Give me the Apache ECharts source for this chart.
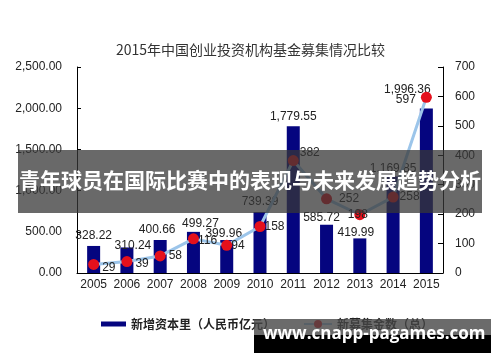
<!DOCTYPE html>
<html>
<head>
<meta charset="utf-8">
<script src="https://cdn.jsdelivr.net/npm/echarts@6/dist/echarts.min.js"></script>
<style>html,body{margin:0;padding:0;background:#fff;}#c{width:500px;height:362px;}</style>
</head>
<body>
<div id="c"></div>
<script>
var years = ['2005','2006','2007','2008','2009','2010','2011','2012','2013','2014','2015'];
var capital = [328.22, 310.24, 400.66, 499.27, 399.96, 739.39, 1779.55, 585.72, 419.99, 1169.85, 1996.36];
var funds = [29, 39, 58, 116, 94, 158, 382, 252, 198, 258, 597];
var titleText = '2015年中国创业投资机构基金募集情况比较';
var barName = '新增资本里（人民币亿元）';
var lineName = '新募集金数（总）';
var bannerText = '青年球员在国际比赛中的表现与未来发展趋势分析';
var siteText = 'www.cnapp-pagames.com';

function fmt2(v) {
  var s = v.toFixed(2);
  var p = s.split('.');
  p[0] = p[0].replace(/\B(?=(\d{3})+(?!\d))/g, ',');
  return p.join('.');
}

var barOffsets = [[0,0],[6,8],[-3,0],[7,2],[-3,4],[0,0],[0,0],[-5,3],[-4,4],[0,2],[-19,-9]];
var lineLabelCfg = [
  {position:'right', offset:[-2,3]},
  {position:'right', offset:[-2,2]},
  {position:'right', offset:[-2,0]},
  {position:'right', offset:[-6,2]},
  {position:'right', offset:[-6,0]},
  {position:'right', offset:[-6,0]},
  {position:'right', offset:[-4,-8]},
  {position:'right', offset:[2,0]},
  {position:'inside', offset:[-2,0]},
  {position:'right', offset:[-4,0]},
  {position:'left', offset:[0,2]}
];

var barData = capital.map(function (v, i) {
  return {value: v, label: {offset: barOffsets[i]}};
});
var lineData = funds.map(function (v, i) {
  return {value: v, label: lineLabelCfg[i]};
});

var txt = '#222';
var chart = echarts.init(document.getElementById('c'), null, {renderer: 'canvas'});
chart.setOption({
  animation: false,
  backgroundColor: '#fff',
  title: {
    text: titleText,
    left: 111, top: 38,
    textStyle: {fontFamily: 'Noto Sans CJK SC', fontSize: 14, fontWeight: 'normal', color: '#333'}
  },
  grid: {left: 77, right: 57, top: 67, bottom: 89},
  legend: [{
    data: [{name: barName, icon: 'rect'}],
    left: 96, top: 313,
    itemWidth: 25, itemHeight: 5, itemGap: 20,
    textStyle: {fontFamily: 'Noto Sans CJK SC', fontSize: 12, fontWeight: 'bold', color: txt}
  }, {
    data: [{name: lineName}],
    left: 298, top: 313,
    itemWidth: 28, itemHeight: 10,
    textStyle: {fontFamily: 'Noto Sans CJK SC', fontSize: 12, fontWeight: 'bold', color: txt}
  }],
  xAxis: {
    type: 'category', data: years, boundaryGap: true,
    axisLine: {lineStyle: {color: '#000', width: 1}},
    axisTick: {inside: true, length: 4, lineStyle: {color: '#000'}},
    axisLabel: {interval: 0, color: txt, fontFamily: 'Liberation Sans', fontSize: 12, margin: 6}
  },
  yAxis: [{
    type: 'value', min: 0, max: 2500, interval: 500,
    axisLine: {show: true, lineStyle: {color: '#000'}},
    axisTick: {show: true, inside: true, length: 4, lineStyle: {color: '#000'}},
    splitLine: {show: false},
    axisLabel: {color: txt, fontFamily: 'Liberation Sans', fontSize: 12, margin: 15, formatter: function (v) { return fmt2(v); }}
  }, {
    type: 'value', min: 0, max: 700, interval: 100, position: 'right',
    axisLine: {show: true, lineStyle: {color: '#000'}},
    axisTick: {show: true, inside: true, length: 5, lineStyle: {color: '#000'}},
    splitLine: {show: false},
    axisLabel: {color: txt, fontFamily: 'Liberation Sans', fontSize: 12, margin: 12}
  }],
  series: [{
    name: barName, type: 'bar', yAxisIndex: 0, data: barData,
    barWidth: 13,
    itemStyle: {color: '#05057f'},
    label: {show: true, position: 'top', distance: 4, color: txt, fontFamily: 'Liberation Sans', fontSize: 12,
      formatter: function (p) { return fmt2(p.value); }}
  }, {
    name: lineName, type: 'line', yAxisIndex: 1, data: lineData,
    symbol: 'circle', symbolSize: 11,
    lineStyle: {color: '#9cc5ea', width: 3},
    itemStyle: {color: '#e5101c', borderWidth: 0},
    label: {show: true, color: txt, fontFamily: 'Liberation Sans', fontSize: 12, distance: 5},
    z: 3
  }],
  graphic: [{
    type: 'rect', left: 18, top: 150, z: 100,
    shape: {width: 464, height: 63},
    style: {fill: 'rgba(55,55,55,0.75)'}
  }, {
    type: 'text', left: 'center', top: 170, z: 101,
    style: {text: bannerText, fill: '#fff', font: 'bold 21px "Noto Sans CJK SC"'}
  }, {
    type: 'rect', left: 254, top: 319, z: 100,
    shape: {width: 237, height: 16},
    style: {fill: 'rgba(70,70,70,0.8)'}
  }, {
    type: 'rect', left: 254, top: 335, z: 100,
    shape: {width: 237, height: 18},
    style: {fill: '#000'}
  }, {
    type: 'text', left: 263, top: 326, z: 101,
    style: {text: siteText, fill: '#fff', font: 'bold 17px "Open Sans"'}
  }]
});
</script>
</body>
</html>
